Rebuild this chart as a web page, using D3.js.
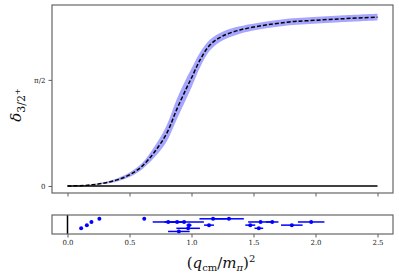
<!DOCTYPE html>
<html>
<head>
<meta charset="utf-8">
<script src="https://cdn.jsdelivr.net/npm/d3@7"></script>
<style>
  body { margin: 0; background: #fff; }
  svg { display: block; }
  .tick text { font-family: "DejaVu Serif", serif; }
</style>
</head>
<body>
<div id="chart-area"></div>
<script>
// phase shift curve (rad) vs (q_cm/m_pi)^2
const gridX = [0, 0.1, 0.2, 0.3, 0.4, 0.5, 0.6, 0.7, 0.8, 0.88, 0.96, 1.0, 1.07, 1.15, 1.25, 1.39, 1.52, 1.66, 1.79, 1.92, 2.2, 2.5];
const deltaMid = [0, 0.004, 0.018, 0.045, 0.09, 0.165, 0.29, 0.5, 0.78, 1.13, 1.45, 1.60, 1.87, 2.09, 2.22, 2.31, 2.36, 2.40, 2.43, 2.445, 2.475, 2.50];
const deltaLow = [0, 0.001, 0.010, 0.032, 0.068, 0.132, 0.245, 0.42, 0.66, 0.98, 1.30, 1.46, 1.76, 2.01, 2.155, 2.255, 2.31, 2.35, 2.38, 2.395, 2.425, 2.45];
const deltaHigh = [0, 0.007, 0.026, 0.058, 0.112, 0.198, 0.335, 0.58, 0.90, 1.28, 1.60, 1.74, 1.98, 2.17, 2.285, 2.365, 2.41, 2.45, 2.48, 2.495, 2.525, 2.55];

// energy levels used in the fit (bottom panel)
const levelX = [0.110, 0.156, 0.193, 0.257, 0.619, 0.812, 0.884, 0.94, 0.98, 1.141, 0.973, 0.898, 1.174, 1.302, 1.557, 1.651, 1.474, 1.543, 1.809, 1.965];
const levelErr = [0, 0, 0, 0, 0, 0.125, 0.07, 0.16, 0.02, 0.04, 0.095, 0.087, 0.11, 0.12, 0.1, 0.05, 0.04, 0.035, 0.087, 0.107];
const levelRow = [2, 3, 4, 5, 5, 4, 4, 4, 3, 3, 2, 1, 5, 5, 4, 4, 3, 2, 3, 4];

const xTicks = [0, 0.5, 1.0, 1.5, 2.0, 2.5];
const yTicks = [0, Math.PI / 2];
const yTickLabels = ["0", "π/2"];

const W = 399, H = 278;
const LEFT = 52, RIGHT = 393;
const MAIN = { TOP: 5, BOTTOM: 193 };
const SUB = { TOP: 215, BOTTOM: 234 };

const svg = d3.select("#chart-area").append("svg")
  .attr("width", W)
  .attr("height", H);

const x = d3.scaleLinear().domain([-0.125, 2.625]).range([LEFT, RIGHT]);
const y = d3.scaleLinear().domain([-0.104, 2.68]).range([MAIN.BOTTOM, MAIN.TOP]);
const yRow = d3.scaleLinear().domain([0.2, 6.2]).range([SUB.BOTTOM, SUB.TOP]);

const pts = gridX.map((d, i) => ({ x: d, mid: deltaMid[i], lo: deltaLow[i], hi: deltaHigh[i] }));

// band
const area = d3.area()
  .x(d => x(d.x))
  .y0(d => y(d.lo))
  .y1(d => y(d.hi))
  .curve(d3.curveCatmullRom.alpha(0.5));

svg.append("path")
  .datum(pts)
  .attr("d", area)
  .attr("fill", "rgb(0,0,255)")
  .attr("fill-opacity", 0.35);

// zero line
svg.append("line")
  .attr("x1", x(0)).attr("x2", x(2.5))
  .attr("y1", y(0)).attr("y2", y(0))
  .attr("stroke", "#000")
  .attr("stroke-width", 1.5);

// central curve
const line = d3.line()
  .x(d => x(d.x))
  .y(d => y(d.mid))
  .curve(d3.curveCatmullRom.alpha(0.5));

svg.append("path")
  .datum(pts)
  .attr("d", line)
  .attr("fill", "none")
  .attr("stroke", "#000")
  .attr("stroke-width", 1.5)
  .attr("stroke-dasharray", "4,2");

// main axes
const yAxisCall = d3.axisLeft(y)
  .tickValues(yTicks)
  .tickFormat((d, i) => yTickLabels[i])
  .tickSize(3.5)
  .tickPadding(3);

const gy = svg.append("g")
  .attr("transform", `translate(${LEFT},0)`)
  .call(yAxisCall);

const gxMain = svg.append("g")
  .attr("transform", `translate(0,${MAIN.BOTTOM})`)
  .call(d3.axisBottom(x).tickValues(xTicks).tickSize(3.5).tickFormat(""));

[gy, gxMain].forEach(g => {
  g.select(".domain").remove();
  g.selectAll(".tick line").attr("stroke", "#333").attr("stroke-width", 0.8);
  g.selectAll(".tick text").attr("font-size", 7).attr("fill", "#222");
});

svg.append("rect")
  .attr("x", LEFT).attr("y", MAIN.TOP)
  .attr("width", RIGHT - LEFT).attr("height", MAIN.BOTTOM - MAIN.TOP)
  .attr("fill", "none")
  .attr("stroke", "#666")
  .attr("stroke-width", 1.2);

// bottom panel
svg.append("line")
  .attr("x1", x(0)).attr("x2", x(0))
  .attr("y1", SUB.TOP).attr("y2", SUB.BOTTOM)
  .attr("stroke", "#000")
  .attr("stroke-width", 1.5);

const levels = levelX.map((d, i) => ({ x: d, err: levelErr[i], row: levelRow[i] }));

svg.append("g").selectAll("line")
  .data(levels.filter(d => d.err > 0))
  .enter().append("line")
  .attr("x1", d => x(d.x - d.err))
  .attr("x2", d => x(d.x + d.err))
  .attr("y1", d => yRow(d.row))
  .attr("y2", d => yRow(d.row))
  .attr("stroke", "#0000ff")
  .attr("stroke-width", 1.5);

svg.append("g").selectAll("circle")
  .data(levels)
  .enter().append("circle")
  .attr("cx", d => x(d.x))
  .attr("cy", d => yRow(d.row))
  .attr("r", 2)
  .attr("fill", "#0000ff");

const gxSub = svg.append("g")
  .attr("transform", `translate(0,${SUB.BOTTOM})`)
  .call(d3.axisBottom(x).tickValues(xTicks).tickSize(3.5).tickPadding(3).tickFormat(d3.format(".1f")));
gxSub.select(".domain").remove();
gxSub.selectAll(".tick line").attr("stroke", "#333").attr("stroke-width", 0.8);
gxSub.selectAll(".tick text").attr("font-size", 7).attr("fill", "#222");

svg.append("rect")
  .attr("x", LEFT).attr("y", SUB.TOP)
  .attr("width", RIGHT - LEFT).attr("height", SUB.BOTTOM - SUB.TOP)
  .attr("fill", "none")
  .attr("stroke", "#666")
  .attr("stroke-width", 1.2);

// labels
const yLabel = svg.append("text")
  .attr("transform", "translate(21,105) rotate(-90)")
  .attr("text-anchor", "middle")
  .attr("font-family", "'DejaVu Serif', serif")
  .attr("font-size", 15)
  .attr("fill", "#111");
yLabel.append("tspan").attr("font-style", "italic").text("δ");
yLabel.append("tspan").attr("font-size", 11).attr("dy", 4).text("3/2");
yLabel.append("tspan").attr("font-size", 8).attr("dy", -5).text("+");

const xLabel = svg.append("text")
  .attr("x", 221).attr("y", 268)
  .attr("text-anchor", "middle")
  .attr("font-family", "'DejaVu Serif', serif")
  .attr("font-size", 15)
  .attr("fill", "#111");
xLabel.append("tspan").text("(");
xLabel.append("tspan").attr("font-style", "italic").text("q");
xLabel.append("tspan").attr("font-size", 10).attr("dy", 3).text("cm");
xLabel.append("tspan").attr("dy", -3).text("/");
xLabel.append("tspan").attr("font-style", "italic").text("m");
xLabel.append("tspan").attr("font-size", 10).attr("font-style", "italic").attr("dy", 3).text("π");
xLabel.append("tspan").attr("dy", -3).text(")");
xLabel.append("tspan").attr("font-size", 10).attr("dy", -6).text("2");
</script>
</body>
</html>
